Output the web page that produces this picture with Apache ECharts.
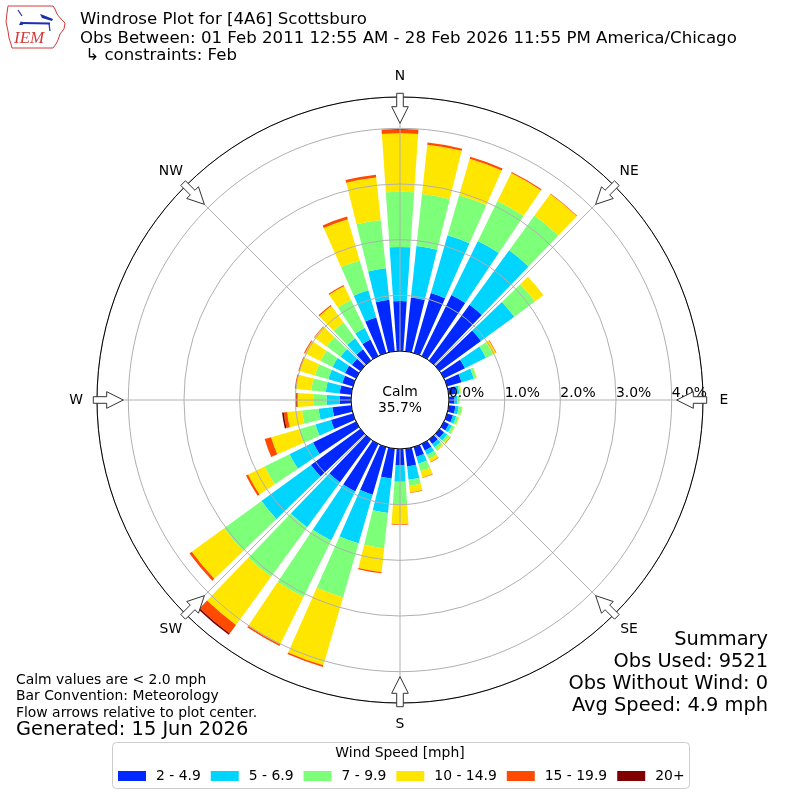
<!DOCTYPE html>
<html><head><meta charset="utf-8">
<script src="https://cdn.jsdelivr.net/npm/echarts@6/dist/echarts.min.js"></script>
<style>html,body{margin:0;padding:0;background:#fff}#c{width:800px;height:800px}</style>
</head><body><div id="c"></div>
<script>
// ---- data (percent of observations, by direction the wind blows FROM) ----
const directions = [0,10,20,30,40,50,60,70,80,90,100,110,120,130,140,150,160,170,180,190,200,210,220,230,240,250,260,270,280,290,300,310,320,330,340,350];
const speedBins = ['2 - 4.9','5 - 6.9','7 - 9.9','10 - 14.9','15 - 19.9','20+'];
const binColors = ['#0028ff','#00d4ff','#7dff7a','#ffe600','#ff4a00','#800000'];
const spd2to5   = [0.90,0.97,1.12,1.22,1.24,0.92,0.42,0.27,0.13,0.10,0.12,0.11,0.10,0.10,0.10,0.13,0.18,0.32,0.29,0.54,0.89,0.95,0.95,1.10,0.86,0.41,0.34,0.20,0.21,0.20,0.22,0.19,0.25,0.33,0.66,0.93];
const spd5to7   = [0.97,0.93,1.08,1.08,1.21,0.74,0.42,0.23,0.06,0.05,0.06,0.06,0.06,0.07,0.07,0.09,0.13,0.24,0.30,0.62,0.91,0.98,1.00,1.10,0.47,0.29,0.25,0.24,0.25,0.26,0.25,0.25,0.24,0.23,0.51,0.57];
const spd7to10  = [0.99,0.94,0.75,0.80,0.77,0.46,0.14,0.05,0.03,0.04,0.06,0.05,0.05,0.05,0.05,0.08,0.14,0.11,0.41,0.64,1.01,1.13,1.10,0.83,0.50,0.31,0.30,0.24,0.26,0.25,0.24,0.31,0.35,0.56,0.56,0.87];
const spd10to15 = [1.05,0.89,0.68,0.56,0.48,0.19,0.06,0.01,0.01,0.00,0.01,0.01,0.01,0.02,0.025,0.06,0.12,0.12,0.35,0.43,1.27,0.95,1.07,0.72,0.33,0.52,0.27,0.28,0.28,0.29,0.31,0.27,0.37,0.28,0.77,0.77];
const spd15to20 = [0.08,0.04,0.04,0.02,0.01,0.00,0.01,0.00,0.00,0.00,0.00,0.00,0.00,0.01,0.005,0.01,0.01,0.01,0.01,0.02,0.03,0.03,0.19,0.05,0.04,0.12,0.06,0.02,0.02,0.02,0.02,0.01,0.02,0.02,0.05,0.05];
const spd20plus = [0,0,0,0,0,0,0,0,0,0,0,0,0,0,0,0,0,0,0,0,0,0,0.03,0,0,0,0.03,0.01,0,0,0,0,0,0,0,0];
const compassLabels = ['N','NE','E','SE','S','SW','W','NW'];
const compassAngles = [0,45,90,135,180,225,270,315];
const calmPct = 35.7;
const summaryLines = ['Summary','Obs Used: 9521','Obs Without Wind: 0','Avg Speed: 4.9 mph'];
const noteLines = ['Calm values are < 2.0 mph','Bar Convention: Meteorology','Flow arrows relative to plot center.'];

const binSeries = [spd2to5, spd5to7, spd7to10, spd10to15, spd15to20, spd20plus];

// ---- layout ----
const FONT = '"DejaVu Sans", sans-serif';
const CX = 400, CY = 400, R0 = 49, R1 = 303, PX_PER_PCT = 55.67, R_LABEL = 324;
const RMAX = (R1 - R0) / PX_PER_PCT;

const chart = echarts.init(document.getElementById('c'), null, {renderer: 'canvas', width: 800, height: 800});

function arrowPts(a) {
  const rad = a * Math.PI / 180;
  const ux = Math.sin(rad), uy = -Math.cos(rad);
  const vx = Math.cos(rad), vy = Math.sin(rad);
  const loc = [[306.7,-3.3],[293.3,-3.3],[293.3,-8.3],[276.7,0],[293.3,8.3],[293.3,3.3],[306.7,3.3]];
  return loc.map(([t, w]) => [CX + t * ux + w * vx, CY + t * uy + w * vy]);
}

function txt(text, x, y, size, opts) {
  opts = opts || {};
  return {
    type: 'text', z: 50, silent: true,
    style: {
      text: text, x: x, y: y,
      font: (opts.style || '') + ' ' + size + 'px ' + (opts.family || FONT),
      fill: opts.fill || '#000',
      textAlign: opts.align || 'left', align: opts.align || 'left',
      textVerticalAlign: 'middle', verticalAlign: 'middle'
    }
  };
}

const graphics = [];
// header logo (decoration)
graphics.push({type: 'polyline', z: 50, silent: true, shape: {points: [[8,6],[53,6],[55,9],[57,14],[61,19],[65,23],[64,29],[60,34],[58,40],[56,44],[53,48],[12,48],[11,44],[9,38],[8,31],[6,22],[7,13],[8,6]]}, style: {stroke: '#d23a3a', lineWidth: 1, fill: null}});
graphics.push({type: 'line', z: 51, silent: true, shape: {x1: 21, y1: 23, x2: 50, y2: 23.5}, style: {stroke: '#1b2fb0', lineWidth: 2}});
graphics.push({type: 'polygon', z: 51, silent: true, shape: {points: [[40,14],[43,15],[53,19],[52,21],[42,18]]}, style: {fill: '#1b2fb0'}});
graphics.push({type: 'line', z: 51, silent: true, shape: {x1: 18, y1: 10, x2: 22, y2: 16}, style: {stroke: '#1b2fb0', lineWidth: 1.2}});
graphics.push({type: 'polygon', z: 51, silent: true, shape: {points: [[19,25],[21,21],[23,25]]}, style: {fill: '#1b2fb0'}});
graphics.push({type: 'line', z: 51, silent: true, shape: {x1: 49, y1: 24, x2: 50, y2: 31}, style: {stroke: '#1b2fb0', lineWidth: 1.2}});
graphics.push(txt('IEM', 14, 39, 17, {style: 'italic', family: '"Liberation Serif", "DejaVu Serif", serif', fill: '#d23a3a'}));

// titles
graphics.push(txt('Windrose Plot for [4A6] Scottsburo', 80, 20, 16.6));
graphics.push(txt('Obs Between: 01 Feb 2011 12:55 AM - 28 Feb 2026 11:55 PM America/Chicago', 80, 38.5, 16.6));
graphics.push(txt(' \u21b3 constraints: Feb', 80, 56, 16.6));

// calm text
graphics.push(txt('Calm', CX, 392, 13.9, {align: 'center'}));
graphics.push(txt(calmPct.toFixed(1) + '%', CX, 408, 13.9, {align: 'center'}));

// compass labels, centred on a fixed radius
compassLabels.forEach((s, i) => {
  const rad = compassAngles[i] * Math.PI / 180;
  graphics.push(txt(s, CX + R_LABEL * Math.sin(rad), CY - R_LABEL * Math.cos(rad), 13.9, {align: 'center'}));
});

// summary
summaryLines.forEach((s, i) => graphics.push(txt(s, 768, 640 + i * 22, 19.4, {align: 'right'})));
// notes
noteLines.forEach((s, i) => graphics.push(txt(s, 16, 680 + i * 16.5, 13.9)));
graphics.push(txt('Generated: 15 Jun 2026', 16, 730, 19.4));

// legend frame + title
graphics.push({type: 'rect', z: 1, silent: true, shape: {x: 112.5, y: 742.5, width: 577, height: 46, r: 4}, style: {fill: '#fff', stroke: '#cccccc', lineWidth: 1}});
graphics.push(txt('Wind Speed [mph]', 400, 753, 13.9, {align: 'center'}));

// flow arrows at compass points
compassAngles.forEach(a => {
  graphics.push({type: 'polygon', z: 60, silent: true, shape: {points: arrowPts(a)}, style: {fill: '#fff', stroke: '#333', lineWidth: 1}});
});

const option = {
  animation: false,
  backgroundColor: '#fff',
  textStyle: {fontFamily: FONT},
  polar: [
    {center: [CX, CY], radius: [R0, R1]},
    {center: [CX, CY], radius: [R0, R1]}
  ],
  angleAxis: [
    {polarIndex: 0, type: 'category', data: directions.map(String), startAngle: 95, clockwise: true, boundaryGap: true, show: false},
    {polarIndex: 1, type: 'value', min: 0, max: 360, interval: 45, startAngle: 0, clockwise: true, z: 10,
      axisLine: {show: true, lineStyle: {color: '#000', width: 1}},
      axisTick: {show: false},
      splitLine: {show: true, lineStyle: {color: '#b0b0b0', width: 1}},
      axisLabel: {show: false}
    }
  ],
  radiusAxis: [
    {polarIndex: 0, type: 'value', min: 0, max: RMAX, show: false},
    {polarIndex: 1, type: 'value', min: 0, max: RMAX, interval: 1, z: 9,
      axisLine: {show: false}, axisTick: {show: false},
      splitLine: {show: true, lineStyle: {color: '#b0b0b0', width: 1}},
      axisLabel: {show: true, margin: 0, align: 'left', verticalAlign: 'bottom', fontSize: 13.9, color: '#000', fontFamily: FONT,
        formatter: v => Math.abs(v - Math.round(v)) < 1e-6 ? v.toFixed(1) + '%' : ''}
    }
  ],
  legend: {
    data: speedBins, left: 113, top: 764, orient: 'horizontal', icon: 'rect',
    itemWidth: 28, itemHeight: 10, itemGap: 10, selectedMode: false, z: 10,
    textStyle: {fontSize: 13.9, color: '#000', fontFamily: FONT, padding: [0, 0, 0, 5]}
  },
  graphic: {elements: graphics},
  series: speedBins.map((name, i) => ({
    type: 'bar', name: name, coordinateSystem: 'polar', polarIndex: 0, stack: 'rose',
    data: binSeries[i], barCategoryGap: '22%', z: 2,
    itemStyle: {color: binColors[i]}
  }))
};
chart.setOption(option);
</script></body></html>
